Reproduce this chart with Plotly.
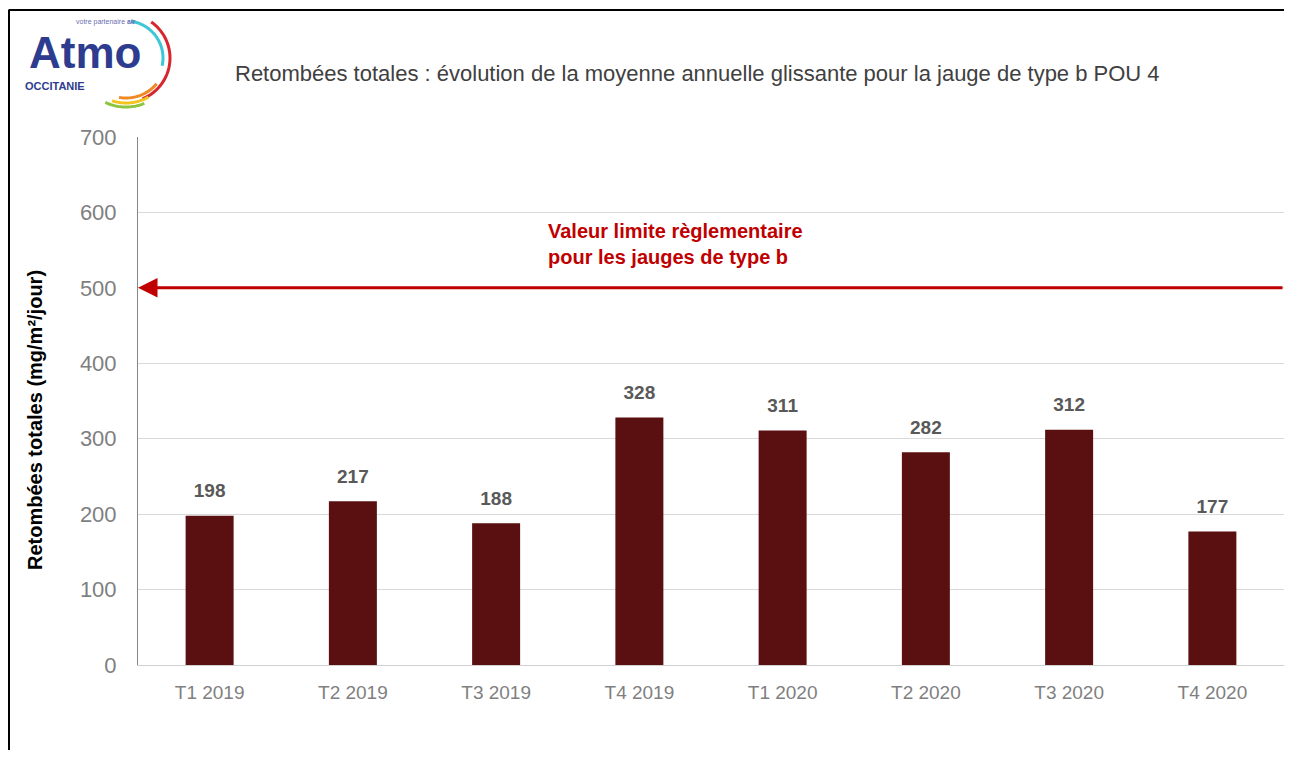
import numpy as np
import plotly.graph_objects as go

# data
quarters = ["T1 2019", "T2 2019", "T3 2019", "T4 2019",
            "T1 2020", "T2 2020", "T3 2020", "T4 2020"]
retombees = [198, 217, 188, 328, 311, 282, 312, 177]
valeur_limite = 500
y_ticks = [0, 100, 200, 300, 400, 500, 600, 700]

# the page body adds an 8px margin, so everything is laid out in page pixels minus 8
O = 8
W, H = 1292 - 2 * O, 758 - 2 * O
L, R, T, B = 130, 0, 129, 85
PW, PH = W - L - R, H - T - B


def px(x):
    return (x - O - L) / PW


def py(y):
    return (H - B - (y - O)) / PH


BAR = "#5a0f10"
RED = "#c00000"
GREY = "#7f7f7f"
BLUE = "#2d3c8e"
FONT = "Liberation Sans, Arial, sans-serif"

fig = go.Figure()
fig.add_trace(
    go.Bar(
        x=quarters,
        y=retombees,
        marker={"color": BAR, "line": {"width": 0}},
        hoverinfo="skip",
    )
)
fig.add_trace(
    go.Scatter(
        x=quarters,
        y=retombees,
        mode="markers+text",
        marker={"size": 20, "opacity": 0},
        text=[str(v) for v in retombees],
        textposition="top center",
        textfont={"family": FONT, "size": 19, "color": "#595959", "weight": "bold"},
        cliponaxis=False,
        hoverinfo="skip",
    )
)

shapes = [
    # picture frame
    dict(type="line", xref="paper", yref="paper", x0=px(8.5), x1=px(1292), y0=py(10), y1=py(10),
         line={"color": "black", "width": 2}),
    dict(type="line", xref="paper", yref="paper", x0=px(9), x1=px(9), y0=py(10), y1=py(758),
         line={"color": "black", "width": 2}),
]

# logo arcs (decoration)
cx, cy = 126, 58
for color, r, a0, a1, w in [
    ("#3cc6d6", 37, -82, 12, 3),
    ("#d7262c", 44, -55, 68, 3),
    ("#f08a24", 40, 40, 100, 3),
    ("#f4c31f", 45, 60, 108, 3),
    ("#8cc63f", 49, 68, 115, 3),
]:
    ang = np.radians(np.linspace(a0, a1, 30))
    pts = [(px(cx + r * np.cos(a)), py(cy + r * np.sin(a))) for a in ang]
    path = "M" + " L".join(f"{x:.5f},{y:.5f}" for x, y in pts)
    shapes.append(dict(type="path", xref="paper", yref="paper", path=path,
                       line={"color": color, "width": w}))

fig.update_layout(shapes=shapes)

annotations = [
    dict(text="Atmo", x=px(27), y=py(52), xanchor="left", yanchor="middle",
         font={"family": FONT, "size": 44, "color": BLUE, "weight": "bold"}),
    dict(text="OCCITANIE", x=px(23), y=py(86), xanchor="left", yanchor="middle",
         font={"family": FONT, "size": 11, "color": BLUE, "weight": "bold"}),
    dict(text="votre partenaire <b>air</b>", x=px(74), y=py(22), xanchor="left", yanchor="middle",
         font={"family": FONT, "size": 7, "color": "#6a6fb0"}),
    dict(text="Retombées totales : évolution de la moyenne annuelle glissante pour la jauge de type b POU 4",
         x=px(233), y=py(73), xanchor="left", yanchor="middle",
         font={"family": FONT, "size": 22, "color": "#404040"}),
    dict(text="<b>Retombées totales (mg/m²/jour)</b>", x=px(35), y=py(420), textangle=-90,
         xanchor="center", yanchor="middle",
         font={"family": FONT, "size": 20, "color": "black"}),
    dict(text="<b>Valeur limite règlementaire<br>pour les jauges de type b</b>",
         x=px(546), y=py(244), xanchor="left", yanchor="middle", align="left",
         font={"family": FONT, "size": 20, "color": RED}),
]
for a in annotations:
    a.update(xref="paper", yref="paper", showarrow=False)

# limit value arrow pointing to the y axis
annotations.append(
    dict(text="", xref="x domain", yref="y", x=0, y=valeur_limite,
         axref="x domain", ayref="y", ax=1.0, ay=valeur_limite,
         showarrow=True, arrowhead=2, arrowsize=1.3, arrowwidth=3, arrowcolor=RED)
)
fig.update_layout(annotations=annotations)

fig.update_layout(
    width=W,
    height=H,
    margin={"l": L, "r": R, "t": T, "b": B},
    paper_bgcolor="white",
    plot_bgcolor="white",
    showlegend=False,
    bargap=0.665,
    font={"family": FONT},
    xaxis={
        "showgrid": False,
        "showline": True,
        "linecolor": "#d0d0d0",
        "tickfont": {"size": 19, "color": GREY},
        "ticklabelstandoff": 10,
    },
    yaxis={
        "range": [0, 700],
        "tickvals": y_ticks,
        "showgrid": True,
        "gridcolor": "#d9d9d9",
        "zeroline": False,
        "showline": True,
        "linecolor": "#868686",
        "tickfont": {"size": 22, "color": GREY},
        "ticklabelstandoff": 16,
    },
)

fig.write_html("out.html")
